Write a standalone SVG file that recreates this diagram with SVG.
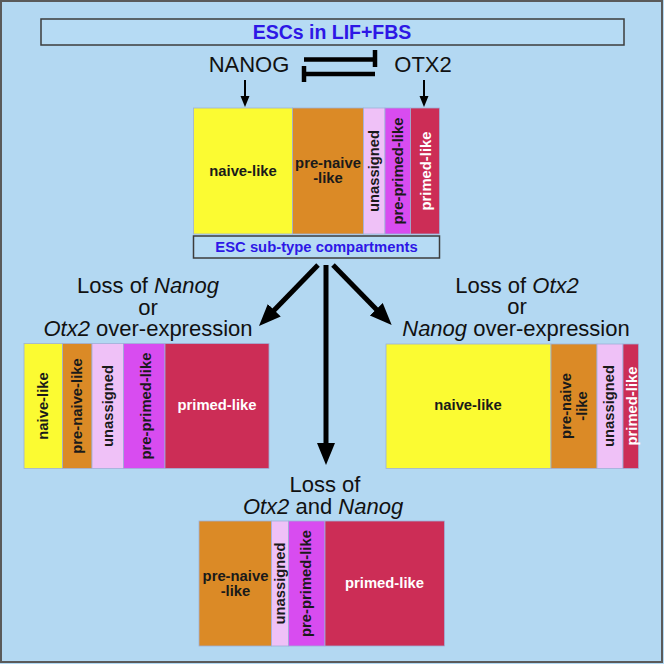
<svg xmlns="http://www.w3.org/2000/svg" width="664" height="664" viewBox="0 0 664 664">
<defs>
<style>
.lbl{font-family:"Liberation Sans",Arial,sans-serif;font-weight:bold;font-size:14.8px;text-anchor:middle;fill:#1a1a1a}
.wh{fill:#ffffff}
.big{font-family:"Liberation Sans",Arial,sans-serif;font-size:22px;text-anchor:middle;fill:#111}
.blue{font-family:"Liberation Sans",Arial,sans-serif;font-weight:bold;text-anchor:middle;fill:#2d17e6}
.y{fill:#fbfb32}.o{fill:#db8a26}.p{fill:#efc1f7}.m{fill:#d84cf0}.c{fill:#cc2d56}
.seg{stroke:#9fb0d8;stroke-width:0.8}
.box{fill:#b6dbf4;stroke:#3c3c3c;stroke-width:1.5}
.thick{stroke:#000;stroke-width:5;fill:none}
.thin{stroke:#000;stroke-width:2;fill:none}
</style>
<marker id="bh" markerUnits="userSpaceOnUse" markerWidth="24" markerHeight="20" refX="2" refY="9" orient="auto"><path d="M0,0 L22,9 L0,18 z" fill="#000"/></marker>
<marker id="sh" markerUnits="userSpaceOnUse" markerWidth="12" markerHeight="10" refX="1" refY="4.5" orient="auto"><path d="M0,0 L11,4.5 L0,9 z" fill="#000"/></marker>
</defs>
<rect x="0" y="0" width="664" height="664" fill="#b3d8f2"/>
<rect x="1" y="1" width="661" height="661" fill="none" stroke="#5a5a5a" stroke-width="2"/>

<g id="title">
<rect class="box" x="41" y="19" width="583" height="26"/>
<text class="blue" x="332" y="39" font-size="19.5">ESCs in LIF+FBS</text>
</g>

<g id="nanog"><text class="big" x="249" y="72">NANOG</text></g>
<g id="otx2"><text class="big" x="423" y="72">OTX2</text></g>

<g id="connectors">
<line x1="304" y1="59.5" x2="375" y2="59.5" stroke="#000" stroke-width="4.5"/>
<line x1="375" y1="50" x2="375" y2="67" stroke="#000" stroke-width="4.5"/>
<line x1="375" y1="74" x2="304" y2="74" stroke="#000" stroke-width="4.5"/>
<line x1="304" y1="66" x2="304" y2="82" stroke="#000" stroke-width="4.5"/>
<line class="thin" x1="245" y1="80" x2="245" y2="97" marker-end="url(#sh)"/>
<line class="thin" x1="424" y1="80" x2="424" y2="97" marker-end="url(#sh)"/>
<line class="thick" x1="318" y1="265" x2="272.9" y2="311.6" marker-end="url(#bh)"/>
<line class="thick" x1="326" y1="265" x2="326" y2="445" marker-end="url(#bh)"/>
<line class="thick" x1="333" y1="265" x2="377.7" y2="310.7" marker-end="url(#bh)"/>
</g>

<g id="main-bar">
<rect class="y seg" x="193.5" y="108" width="99" height="126"/>
<rect class="o seg" x="292.5" y="108" width="71" height="126"/>
<rect class="p seg" x="363.5" y="108" width="21.5" height="126"/>
<rect class="m seg" x="385" y="108" width="25.5" height="126"/>
<rect class="c seg" x="410.5" y="108" width="29" height="126"/>
<text class="lbl" x="243" y="176">naive-like</text>
<text class="lbl" x="328" y="168">pre-naive<tspan x="328" dy="15">-like</tspan></text>
<text class="lbl" transform="translate(379,171) rotate(-90)">unassigned</text>
<text class="lbl" transform="translate(402.5,171) rotate(-90)">pre-primed-like</text>
<text class="lbl wh" transform="translate(431,171) rotate(-90)">primed-like</text>
</g>

<g id="compartments">
<rect class="box" x="193.5" y="236" width="246" height="22"/>
<text class="blue" x="316.5" y="251.5" font-size="14.8">ESC sub-type compartments</text>
</g>

<g id="left-label">
<text class="big" x="148" y="293">Loss of <tspan font-style="italic">Nanog</tspan><tspan x="148" dy="21.5">or</tspan><tspan x="148" dy="21.5" font-style="italic">Otx2</tspan> over-expression</text>
</g>

<g id="left-bar">
<rect class="y seg" x="24" y="343.5" width="38.5" height="125"/>
<rect class="o seg" x="62.5" y="343.5" width="29.5" height="125"/>
<rect class="p seg" x="92" y="343.5" width="31.5" height="125"/>
<rect class="m seg" x="123.5" y="343.5" width="41.5" height="125"/>
<rect class="c seg" x="165" y="343.5" width="104" height="125"/>
<text class="lbl" transform="translate(48,406) rotate(-90)">naive-like</text>
<text class="lbl" transform="translate(82,406) rotate(-90)">pre-naive-like</text>
<text class="lbl" transform="translate(113,406) rotate(-90)">unassigned</text>
<text class="lbl" transform="translate(150.5,406) rotate(-90)">pre-primed-like</text>
<text class="lbl wh" x="217" y="410">primed-like</text>
</g>

<g id="right-label">
<text class="big" x="517" y="292.5">Loss of <tspan font-style="italic">Otx2</tspan><tspan x="517" dy="21.5">or</tspan><tspan x="516" dy="22" font-style="italic">Nanog</tspan> over-expression</text>
</g>

<g id="right-bar">
<rect class="y seg" x="386" y="344" width="165" height="124.5"/>
<rect class="o seg" x="551" y="344" width="46" height="124.5"/>
<rect class="p seg" x="597" y="344" width="26" height="124.5"/>
<rect class="c seg" x="623" y="344" width="15.5" height="124.5"/>
<text class="lbl" x="468" y="410">naive-like</text>
<text class="lbl" transform="translate(571,406) rotate(-90)">pre-naive<tspan x="0" dy="16">-like</tspan></text>
<text class="lbl" transform="translate(614,406) rotate(-90)">unassigned</text>
<text class="lbl wh" transform="translate(636.5,406) rotate(-90)">primed-like</text>
</g>

<g id="bottom-label">
<text class="big" x="325" y="492">Loss of<tspan x="323" dy="21.5" font-style="italic">Otx2</tspan> and <tspan font-style="italic">Nanog</tspan></text>
</g>

<g id="bottom-bar">
<rect class="o seg" x="199" y="521" width="72.5" height="125"/>
<rect class="p seg" x="271.5" y="521" width="17" height="125"/>
<rect class="m seg" x="288.5" y="521" width="36.5" height="125"/>
<rect class="c seg" x="325" y="521" width="119.5" height="125"/>
<text class="lbl" x="235.5" y="581">pre-naive<tspan x="235.5" dy="15">-like</tspan></text>
<text class="lbl" transform="translate(285,583.5) rotate(-90)">unassigned</text>
<text class="lbl" transform="translate(311,583.5) rotate(-90)">pre-primed-like</text>
<text class="lbl wh" x="384.5" y="588">primed-like</text>
</g>
</svg>
